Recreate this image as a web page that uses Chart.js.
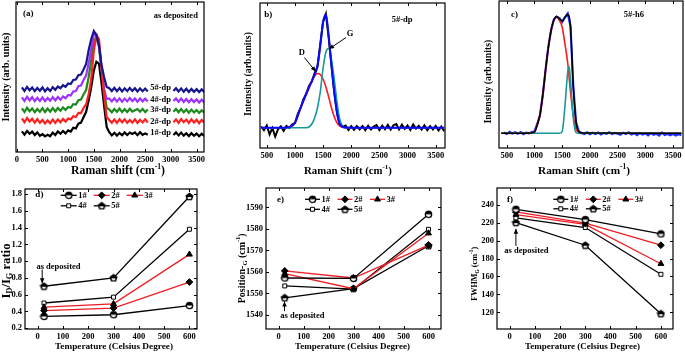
<!DOCTYPE html>
<html>
<head>
<meta charset="utf-8">
<script src="https://cdn.jsdelivr.net/npm/chart.js@4.4.0/dist/chart.umd.min.js"></script>
<style>
  html, body { margin: 0; padding: 0; background: #fff; }
  #wrap { position: relative; width: 685px; height: 352px; overflow: hidden; }
  canvas { position: absolute; }
</style>
</head>
<body>
<div id="wrap">
  <canvas id="pa"></canvas>
  <canvas id="pb"></canvas>
  <canvas id="pc"></canvas>
  <canvas id="pd"></canvas>
  <canvas id="pe"></canvas>
  <canvas id="pf"></canvas>
</div>
<script>
const FONT = '"Liberation Serif", "Times New Roman", serif';

// (a) as-deposited Raman spectra, stacked (arb. units); null = gap for the label
const shiftA = [100,150,200,250,300,350,400,450,500,550, 600,650,700,750,800,850,900,950,1000,1050,
  1100,1150,1200,1250,1300,1350,1400,1450,1500,1550, 1600,1650,1700,1750,1800,1850,1900,1950,2000,2050,
  2100,2150,2200,2250,2300,2350,2400,2450,2500,2550, 2800,
  3050,3100,3150,3200,3250,3300,3350,3400,3450,3500,3550,3600,3650];
const dp1 = [20.6,17.4,21.0,18.2,20.4,17.0,19.6,16.2,17.8,15.6, 17.2,15.8,19.4,17.0,20.6,18.2,21.0,18.6,21.6,20.4,
  24.2,23.6,28.4,29.4,34.8,40.0,51.8,65.0,81.4,90.2, 88.4,69.0,46.4,25.0,19.8,16.6,19.2,16.4,19.0,16.8,
  19.6,17.0,19.4,18.0,19.6,16.8,19.8,17.2,18.6,17.2, null,
  17.0,19.6,16.6,19.4,16.4,18.8,16.0,18.8,16.2,18.4,15.8,18.2,16.0];
const dp2 = [33.6,29.8,34.0,30.4,33.2,29.4,32.8,29.2,32.0,28.6, 31.6,28.8,32.4,29.0,32.6,29.8,33.0,30.4,33.4,32.6,
  35.8,35.0,39.2,39.0,44.0,47.6,58.0,73.0,101.0,117.0, 113.0,84.0,57.0,35.0,32.0,29.2,32.4,29.0,32.6,29.6,
  32.8,29.2,32.0,29.4,32.6,29.0,32.2,29.6,32.8,29.4, null,
  29.8,32.6,29.2,33.0,29.8,32.4,29.0,32.6,29.4,32.2,28.8,32.0,29.4];
const dp3 = [43.6,40.0,44.2,40.8,43.6,39.8,43.0,40.2,43.8,40.0, 43.4,40.4,44.0,40.6,44.0,41.2,44.6,42.0,45.0,44.2,
  47.8,47.4,51.8,52.5,57.5,62.0,75.0,92.0,111.0,114.5, 105.0,83.0,61.0,44.0,42.6,39.8,43.0,40.2,43.4,39.9,
  42.8,40.0,43.2,40.4,41.8,43.0,40.3,43.1,39.9,42.6, null,
  40.2,43.0,39.8,42.9,39.6,42.5,39.2,42.4,39.5,42.0,39.1,41.8,39.3];
const dp4 = [54.6,51.0,55.2,51.6,54.8,50.9,54.2,51.0,54.6,50.8, 54.0,51.2,54.9,51.5,55.0,52.2,55.6,53.8,57.0,56.5,
  60.5,61.0,65.8,66.5,72.0,76.5,89.0,103.0,117.5,117.5, 107.0,84.0,63.0,53.0,53.5,50.6,53.8,50.5,53.6,50.2,
  53.4,50.6,53.9,50.8,53.5,50.3,53.6,50.7,53.3,50.5, null,
  50.9,53.5,50.3,53.4,50.0,53.0,49.8,52.8,49.9,52.6,49.5,52.3,49.6];
const dp5 = [64.6,61.0,65.0,61.8,64.6,60.9,64.0,61.2,64.5,60.6, 63.8,61.0,64.8,62.2,65.5,63.8,66.8,65.2,68.5,68.0,
  72.0,72.5,76.8,77.5,82.5,88.0,102.0,113.0,121.0,117.0, 107.0,87.0,75.0,65.0,63.8,61.0,64.2,60.8,63.9,60.6,
  63.7,60.9,64.0,61.1,63.8,60.5,63.6,60.8,63.4,60.6, null,
  61.1,63.8,60.5,63.6,60.2,63.3,60.0,63.0,60.2,62.8,59.9,62.6,60.0];
const spectraLabels = ['1#-dp', '2#-dp', '3#-dp', '4#-dp', '5#-dp'];
const spectraBase = [19.3, 30.3, 42, 52.7, 64];

// (b) 5#-dp: measured spectrum and D / G fit
const shiftB = [400,450,500,550,600,650,700,750,800,850, 900,950,1000,1050,1100,1150,1200,1250,1300,1350,
  1400,1450,1500,1550,1600,1650,1700,1750,1800,1850, 1900,1950,2000,2050,2100,2150,2200,2250,2300,2350,
  2400,2450,2500,2550,2600,2650,2700,2750,2800,2850, 2900,2950,3000,3050,3100,3150,3200,3250,3300,3350,
  3400,3450,3500,3550,3600,3650];
const measB = [21.5,17.8,22.5,13.5,20.0,11.5,18.8,21.6,17.2,22.0, 20.0,23.5,25.0,34.0,40.0,48.5,54.0,62.0,66.5,75.0,
  81.0,104.0,126.0,134.0,110.0,82.0,55.0,35.0,22.5,21.0, 22.4,18.0,21.8,18.2,22.0,18.6,21.9,17.8,22.2,18.5,
  21.4,23.0,18.0,22.3,18.8,23.2,18.5,22.8,24.0,18.6, 23.4,19.1,22.5,18.0,23.6,19.3,22.2,18.4,22.6,17.9,
  21.8,18.5,22.0,17.6,21.4,16.8];
const fitXB = [400,800,900,1000,1100,1200,1300,1400,1450,1500,1550,1600,1650,1700,1750,1800,1900,2200,3650];
const fitB = [20.3,20.3,21.0,25.0,40.0,54.0,67.0,82.0,102.0,126.0,133.5,112.0,82.0,55.0,34.0,23.5,20.5,20.3,20.3];
const dXB = [400,800,900,1000,1100,1200,1300,1350,1400,1450,1500,1550,1600,1650,1700,1750,1800,1850,1900,3650];
const dBandB = [20.3,20.3,21.0,25.0,40.0,54.0,67.0,72.0,74.5,73.5,69.0,61.0,51.0,40.0,31.0,25.0,22.0,20.8,20.3,20.3];
const gXB = [400,1200,1250,1300,1350,1400,1450,1500,1550,1600,1650,1700,1750,1800,1850,1900,3650];
const gBandB = [20.3,20.3,21.0,24.0,30.0,40.0,56.0,80.0,96.0,99.5,88.0,68.0,45.0,28.0,21.5,20.3,20.3];

// (c) 5#-h6: measured spectrum and D / G fit
const shiftC = [450,500,550,600,650,700,750,800,850,900, 950,1000,1050,1100,1150,1200,1250,1300,1350,1400,
  1450,1500,1550,1600,1650,1700,1750,1800,1850,1900, 1950,2000,2050,2100,2150,2200,2250,2300,2350,2400,
  2450,2500,2550,2600,2650,2700,2750,2800,2850,2900, 2950,3000,3050,3100,3150,3200,3250,3300,3350,3400,
  3450,3500,3550,3600,3650];
const measC = [15.5,14.0,16.2,14.5,15.8,14.2,16.0,13.8,15.4,14.6, 15.9,16.5,24.0,33.0,53.0,78.0,101.0,118.0,128.5,131.5,
  130.0,126.0,130.5,134.5,122.0,62.0,26.0,16.5,15.0,14.0, 15.6,13.8,15.2,14.0,15.5,13.6,15.0,14.2,15.8,13.9,
  15.1,14.4,13.2,15.3,14.0,15.6,13.5,14.8,12.8,15.0, 13.4,14.6,12.6,14.9,13.3,14.2,12.4,15.4,13.0,14.0,
  12.8,13.9,12.5,13.8,12.9];
const fitXC = [400,900,1000,1050,1100,1150,1200,1250,1300,1350,1400,1450,1500,1550,1600,1650,1700,1750,1800,1850,3650];
const fitC = [14.7,14.7,16.0,23.0,33.5,53.0,78.0,100.5,117.5,128.0,131.5,129.0,127.0,131.0,133.5,121.0,62.0,26.0,16.5,15.0,14.7];
const dXC = [400,900,1000,1050,1100,1150,1200,1250,1300,1350,1400,1450,1500,1550,1600,1650,1700,1750,1800,1850,3650];
const dBandC = [14.7,14.7,16.0,23.0,33.5,53.0,78.0,100.5,117.5,128.0,131.5,127.5,121.0,104.0,85.0,56.0,33.0,19.0,15.5,14.7,14.7];
const gXC = [400,1450,1500,1550,1600,1625,1650,1700,1750,1800,3650];
const gBandC = [14.7,14.7,16.5,42.0,76.0,81.5,68.0,30.0,15.5,14.7,14.7];

// (d)-(f) versus annealing temperature, samples 1#..5#
const temps = [25, 300, 600];
const samples = ['1#', '2#', '3#', '4#', '5#'];
const idigRatio = [[0.34, 0.36, 0.47], [0.41, 0.44, 0.75], [0.45, 0.49, 1.08], [0.50, 0.57, 1.38], [0.70, 0.80, 1.77]];
const positionG = [[1557.2, 1557.0, 1586.8], [1560.5, 1557.2, 1572.5], [1559.2, 1552.2, 1578.0], [1553.5, 1552.0, 1579.8], [1548.0, 1552.3, 1572.2]];
const fwhmG = [[234.8, 223.3, 207.4], [231.8, 219.3, 194.8], [228.9, 218.0, 174.2], [225.2, 214.5, 162.4], [220.0, 194.8, 118.5]];

// tick values
const ramanTicksA = [0, 500, 1000, 1500, 2000, 2500, 3000, 3500];
const ramanTicks = [500, 1000, 1500, 2000, 2500, 3000, 3500];
const tempTicks = [0, 100, 200, 300, 400, 500, 600];
const ratioTicks = [0.2, 0.4, 0.6, 0.8, 1.0, 1.2, 1.4, 1.6, 1.8];
const posTicks = [1540, 1550, 1560, 1570, 1580, 1590];
const fwhmTicks = [120, 140, 160, 180, 200, 220, 240];

const xy = (xs, ys) => xs.map((x, i) => ({ x: x, y: ys[i] }));

// marker glyphs
function glyph(draw) {
  const c = document.createElement('canvas');
  c.width = 9; c.height = 9;
  draw(c.getContext('2d'));
  return c;
}
const halfCircle = glyph(g => {
  g.beginPath(); g.arc(4.5, 4.5, 3.2, 0, Math.PI * 2); g.fillStyle = '#fff'; g.fill();
  g.beginPath(); g.arc(4.5, 4.5, 3.2, Math.PI, Math.PI * 2); g.closePath(); g.fillStyle = '#000'; g.fill();
  g.beginPath(); g.arc(4.5, 4.5, 3.2, 0, Math.PI * 2); g.lineWidth = 1.3; g.strokeStyle = '#000'; g.stroke();
});
const halfPenta = glyph(g => {
  const pts = [];
  for (let k = 0; k < 5; k++) {
    const a = -Math.PI / 2 + k * Math.PI * 2 / 5;
    pts.push([4.5 + 3.6 * Math.cos(a), 4.8 + 3.6 * Math.sin(a)]);
  }
  g.beginPath(); pts.forEach((p, i) => i ? g.lineTo(p[0], p[1]) : g.moveTo(p[0], p[1])); g.closePath();
  g.fillStyle = '#000'; g.fill();
  g.fillStyle = '#fff'; g.fillRect(2.6, 5.0, 3.8, 1.8);
  g.lineWidth = 1.1; g.strokeStyle = '#000'; g.stroke();
});

const RED = '#ee1c24';
const markStyle = [
  { pointStyle: halfCircle, lineColor: '#000', bg: '#000' },
  { pointStyle: 'rectRot', lineColor: RED, bg: '#000' },
  { pointStyle: 'triangle', lineColor: RED, bg: '#000' },
  { pointStyle: 'rect', lineColor: '#000', bg: '#fff' },
  { pointStyle: halfPenta, lineColor: '#000', bg: '#000' }
];

function sampleSets(values) {
  return values.map((v, i) => ({
    label: samples[i],
    data: xy(temps, v),
    borderColor: markStyle[i].lineColor,
    borderWidth: 1.3,
    pointStyle: markStyle[i].pointStyle,
    pointRadius: i === 3 ? 2.8 : 3.4,
    pointBackgroundColor: markStyle[i].bg,
    pointBorderColor: '#000',
    pointBorderWidth: 1
  }));
}

function line(data, color, width, smooth) {
  return {
    data: data, borderColor: color, borderWidth: width, pointRadius: 0,
    cubicInterpolationMode: smooth ? 'monotone' : 'default', tension: 0, spanGaps: false
  };
}

// decorations: frame, inward ticks, notes, arrows, legend, axis titles
const spec = {};

function drawRich(ctx, parts, cx, cy, width, rot) {
  const measure = size => parts.reduce((w, p) => {
    ctx.font = 'bold ' + (p[1] ? size * 0.65 : size) + 'px ' + FONT;
    return w + ctx.measureText(p[0]).width;
  }, 0);
  const size = 10 * width / measure(10);
  const total = measure(size);
  ctx.save();
  ctx.translate(cx, cy);
  ctx.rotate(rot || 0);
  ctx.textBaseline = 'middle';
  ctx.textAlign = 'left';
  ctx.fillStyle = '#000';
  let x = -total / 2;
  parts.forEach(p => {
    ctx.font = 'bold ' + (p[1] ? size * 0.65 : size) + 'px ' + FONT;
    const dy = p[1] === 'sup' ? -size * 0.35 : p[1] === 'sub' ? size * 0.28 : 0;
    ctx.fillText(p[0], x, dy);
    x += ctx.measureText(p[0]).width;
  });
  ctx.restore();
}

function arrow(ctx, x1, y1, x2, y2) {
  ctx.beginPath(); ctx.moveTo(x1, y1); ctx.lineTo(x2, y2); ctx.stroke();
  const a = Math.atan2(y2 - y1, x2 - x1);
  ctx.beginPath();
  ctx.moveTo(x2, y2);
  ctx.lineTo(x2 - 5 * Math.cos(a) + 2.3 * Math.sin(a), y2 - 5 * Math.sin(a) - 2.3 * Math.cos(a));
  ctx.lineTo(x2 - 5 * Math.cos(a) - 2.3 * Math.sin(a), y2 - 5 * Math.sin(a) + 2.3 * Math.cos(a));
  ctx.closePath();
  ctx.fill();
}

const decor = {
  id: 'decor',
  afterDraw(chart) {
    const s = spec[chart.canvas.id];
    const ctx = chart.ctx, a = chart.chartArea, x = chart.scales.x, y = chart.scales.y;
    ctx.save();
    ctx.strokeStyle = '#000';
    ctx.fillStyle = '#000';
    ctx.lineWidth = 1.2;
    ctx.strokeRect(a.left, a.top, a.right - a.left, a.bottom - a.top);
    ctx.lineWidth = 1;
    x.ticks.forEach(t => {
      const px = Math.round(x.getPixelForValue(t.value)) + 0.5;
      ctx.beginPath(); ctx.moveTo(px, a.bottom); ctx.lineTo(px, a.bottom - 3); ctx.stroke();
      ctx.beginPath(); ctx.moveTo(px, a.top); ctx.lineTo(px, a.top + 3); ctx.stroke();
    });
    if (s.yTicks) {
      y.ticks.forEach(t => {
        const py = Math.round(y.getPixelForValue(t.value)) + 0.5;
        ctx.beginPath(); ctx.moveTo(a.left, py); ctx.lineTo(a.left + 3, py); ctx.stroke();
        ctx.beginPath(); ctx.moveTo(a.right, py); ctx.lineTo(a.right - 3, py); ctx.stroke();
      });
    }
    ctx.textBaseline = 'middle';
    (s.notes || []).forEach(n => {
      ctx.font = 'bold ' + (n.size || 8.5) + 'px ' + FONT;
      ctx.textAlign = n.align || 'left';
      ctx.fillText(n.text, x.getPixelForValue(n.x), y.getPixelForValue(n.y));
    });
    ctx.lineWidth = 1;
    (s.arrows || []).forEach(r => arrow(ctx,
      x.getPixelForValue(r[0]), y.getPixelForValue(r[1]),
      x.getPixelForValue(r[2]), y.getPixelForValue(r[3])));
    if (s.legend) {
      const L = s.legend;
      chart.data.datasets.forEach((ds, i) => {
        const col = i < 3 ? i : i - 3, row = i < 3 ? 0 : 1;
        const lx = a.left + L.x0 + col * L.colW, ly = a.top + L.y0 + row * L.rowH;
        ctx.strokeStyle = ds.borderColor; ctx.lineWidth = 1.3;
        ctx.beginPath(); ctx.moveTo(lx, ly); ctx.lineTo(lx + L.len, ly); ctx.stroke();
        ctx.fillStyle = ds.pointBackgroundColor; ctx.strokeStyle = '#000'; ctx.lineWidth = 1;
        Chart.helpers.drawPoint(ctx, { pointStyle: ds.pointStyle, radius: ds.pointRadius, rotation: 0, borderWidth: 1 },
          lx + L.len / 2, ly);
        ctx.fillStyle = '#000';
        ctx.font = 'bold 8.5px ' + FONT;
        ctx.textAlign = 'left';
        ctx.fillText(ds.label, lx + L.len + 1.5, ly);
      });
    }
    (s.titles || []).forEach(t => drawRich(ctx, t.parts, t.cx - s.left, t.cy - s.top, t.w, t.rot));
    ctx.restore();
  }
};

function makeChart(id, box, frame, xr, yr, xTicks, yTicks, yFmt, datasets, extra) {
  const cv = document.getElementById(id);
  cv.width = box[2]; cv.height = box[3];
  cv.style.left = box[0] + 'px'; cv.style.top = box[1] + 'px';
  spec[id] = Object.assign({ left: box[0], top: box[1] }, extra);
  const tickFont = { family: FONT, size: 8.5, weight: 'bold' };
  new Chart(cv, {
    type: 'line',
    data: { datasets: datasets },
    plugins: [decor],
    options: {
      responsive: false, animation: false, events: [],
      layout: { padding: { left: 0, bottom: 0, top: frame[1] - box[1], right: box[0] + box[2] - frame[2] } },
      plugins: { legend: { display: false }, tooltip: { enabled: false } },
      scales: {
        x: {
          type: 'linear', min: xr[0], max: xr[1],
          grid: { display: false, drawTicks: false, tickLength: 0 }, border: { display: false },
          afterBuildTicks: sc => { sc.ticks = xTicks.map(v => ({ value: v })); },
          afterFit: sc => { sc.height = box[1] + box[3] - frame[3]; },
          ticks: { font: tickFont, color: '#000', padding: 3, maxRotation: 0, autoSkip: false, callback: v => String(v) }
        },
        y: {
          type: 'linear', min: yr[0], max: yr[1],
          grid: { display: false, drawTicks: false, tickLength: 0 }, border: { display: false },
          afterBuildTicks: sc => { sc.ticks = (yTicks || []).map(v => ({ value: v })); },
          afterFit: sc => { sc.width = frame[0] - box[0]; },
          ticks: { display: !!yTicks, font: tickFont, color: '#000', padding: 3, autoSkip: false, callback: yFmt || (v => String(v)) }
        }
      }
    }
  });
}

// ---- (a)
const colorsA = ['#000000', '#ff1f1f', '#1b8a1b', '#9d32ff', '#15158e'];
const dpSets = [dp1, dp2, dp3, dp4, dp5];
makeChart('pa', [0, 0, 232, 178], [16, 2, 204, 152], [-15, 3645], [0, 150], ramanTicksA, null, null,
  [4, 1, 3, 2, 0].map(i => line(xy(shiftA, dpSets[i]), colorsA[i], 2.2)),
  {
    notes: [{ text: '(a)', x: 120, y: 138, size: 9 }, { text: 'as deposited', x: 2666, y: 136 }]
      .concat(spectraLabels.map((t, i) => ({ text: t, x: 2800, y: spectraBase[i], align: 'center' }))),
    titles: [
      { parts: [['Intensity (arb. units)']], cx: 6, cy: 77, w: 89, rot: -Math.PI / 2 },
      { parts: [['Raman shift (cm'], ['-1', 'sup'], [')']], cx: 118, cy: 171, w: 94 }
    ]
  });

// ---- (b)
makeChart('pb', [232, 0, 224, 178], [260, 3, 445, 148], [380, 3665], [0, 145], ramanTicks, null, null,
  [line(xy(fitXB, fitB), '#0a0aff', 2, true),
   line(xy(gXB, gBandB), '#17989a', 1.6, true),
   line(xy(dXB, dBandB), '#ff1a1a', 1.6, true),
   line(xy(shiftB, measB), '#000', 2)],
  {
    notes: [{ text: 'b)', x: 455, y: 133, size: 9 }, { text: '5#-dp', x: 2720, y: 128 },
            { text: 'D', x: 1121, y: 95, align: 'center' }, { text: 'G', x: 1980, y: 114, align: 'center' }],
    arrows: [[1168, 90.5, 1370, 76.5], [1908, 110.5, 1607, 99]],
    titles: [
      { parts: [['Intensity (arb.units)']], cx: 248.3, cy: 74, w: 84, rot: -Math.PI / 2 },
      { parts: [['Raman Shift (cm'], ['-1', 'sup'], [')']], cx: 348, cy: 171, w: 88 }
    ]
  });

// ---- (c)
makeChart('pc', [456, 0, 240, 178], [499, 1, 683, 148], [360, 3680], [0, 147], ramanTicks, null, null,
  [line(xy(fitXC, fitC), '#000', 1.5, true),
   line(xy(gXC, gBandC), '#17989a', 1.6, true),
   line(xy(dXC, dBandC), '#ff1a1a', 1.6, true),
   line(xy(shiftC, measC), '#1f2fff', 2.2)],
  {
    notes: [{ text: 'c)', x: 578, y: 133, size: 9 }, { text: '5#-h6', x: 2609, y: 133 }],
    titles: [
      { parts: [['Intensity (arb.units)']], cx: 488.3, cy: 81.7, w: 84, rot: -Math.PI / 2 },
      { parts: [['Raman Shift (cm'], ['-1', 'sup'], [')']], cx: 584, cy: 171, w: 92 }
    ]
  });

// ---- (d)
const tempTitle = [['Temperature (Celsius Degree)']];
makeChart('pd', [0, 178, 232, 174], [25, 189, 197, 329], [-50, 630], [0.19, 1.86], tempTicks, ratioTicks,
  v => v.toFixed(1), sampleSets(idigRatio),
  {
    yTicks: true,
    legend: { x0: 35.7, y0: 6.3, colW: 33, rowH: 10.5, len: 16 },
    notes: [{ text: 'd)', x: -9, y: 1.79, size: 9 }, { text: 'as deposited', x: -5, y: 0.935 }],
    arrows: [[18, 0.9, 18, 0.735]],
    titles: [
      { parts: tempTitle, cx: 114, cy: 347, w: 118 },
      { parts: [['I'], ['D', 'sub'], ['/I'], ['G', 'sub'], [' ratio']], cx: 6.7, cy: 271, w: 55, rot: -Math.PI / 2 }
    ]
  });

// ---- (e)
makeChart('pe', [232, 178, 224, 174], [266, 188, 441, 329], [-50, 650], [1533.5, 1599], tempTicks, posTicks,
  null, sampleSets(positionG),
  {
    yTicks: true,
    legend: { x0: 39, y0: 11.3, colW: 32.5, rowH: 10, len: 15 },
    notes: [{ text: 'e)', x: -6, y: 1593.8, size: 9 }, { text: 'as deposited', x: 7, y: 1539.5 }],
    arrows: [[24, 1541.8, 24, 1546.3]],
    titles: [
      { parts: tempTitle, cx: 352.5, cy: 347, w: 115 },
      { parts: [['Position-'], ['G', 'sub'], [' (cm'], ['-1', 'sup'], [')']], cx: 242.3, cy: 268.3, w: 70, rot: -Math.PI / 2 }
    ]
  });

// ---- (f)
makeChart('pf', [456, 178, 229, 174], [497, 188, 673, 329], [-50, 648], [101.5, 258.5], tempTicks, fwhmTicks,
  null, sampleSets(fwhmG),
  {
    yTicks: true,
    legend: { x0: 56.3, y0: 11.3, colW: 32.5, rowH: 9.5, len: 15 },
    notes: [{ text: 'f)', x: -10, y: 245.9, size: 9 }, { text: 'as deposited', x: -21, y: 188.5 }],
    arrows: [[25, 194, 25, 213]],
    titles: [
      { parts: tempTitle, cx: 582.5, cy: 347, w: 115 },
      { parts: [['FWHM'], ['G', 'sub'], [' (cm'], ['-1', 'sup'], [')']], cx: 475, cy: 273.8, w: 54, rot: -Math.PI / 2 }
    ]
  });
</script>
</body>
</html>
